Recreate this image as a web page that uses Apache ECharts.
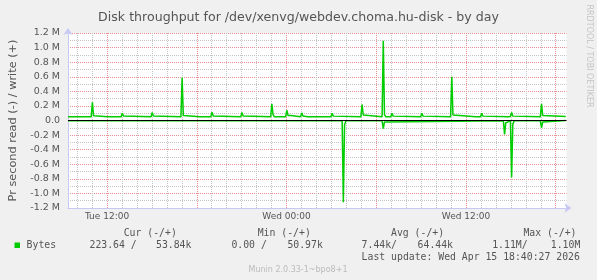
<!DOCTYPE html>
<html>
<head>
<meta charset="utf-8">
<script src="https://cdn.jsdelivr.net/npm/echarts@6/dist/echarts.min.js"></script>
<style>
html,body{margin:0;padding:0;background:#F0F0F0;}
#chart{width:597px;height:280px;}
</style>
</head>
<body>
<div id="chart"></div>
<script>
// ---- data (x = hours since Tue 00:00, y = bytes per second) ----
const xMinHour = 9.39;
const xMaxHour = 42.72;
const minorHours = [10,11,13,14,15,16,17,19,20,21,22,23,25,26,27,28,29,31,32,33,34,35,37,38,39,40,41];
const majorHours = [12,18,24,30,36,42];
const xTickHours = [12,24,36];
const xTickLabels = ['Tue 12:00','Wed 00:00','Wed 12:00'];

// write (+)
const writeSeries = [
  [9.39,50e3],
  [10.21,50e3],[10.29,70e3],[10.37,50e3],
  [10.94,50e3],[11.02,250e3],[11.10,65e3],[11.19,50e3],
  [12.08,50e3],[12.16,70e3],[12.24,50e3],
  [12.94,50e3],[13.02,100e3],[13.10,62e3],[13.19,50e3],
  [14.94,50e3],[15.02,110e3],[15.10,62e3],[15.19,50e3],
  [16.94,50e3],[17.02,590e3],[17.10,70e3],[17.19,50e3],
  [18.21,50e3],[18.29,70e3],[18.37,50e3],
  [18.94,50e3],[19.02,115e3],[19.10,62e3],[19.19,50e3],
  [20.94,50e3],[21.02,110e3],[21.10,62e3],[21.19,50e3],
  [22.94,50e3],[23.02,230e3],[23.10,80e3],[23.19,50e3],
  [23.48,50e3],[23.56,68e3],[23.64,50e3],
  [23.94,50e3],[24.02,140e3],[24.10,70e3],[24.19,58e3],[24.29,70e3],[24.37,50e3],
  [24.94,50e3],[25.02,105e3],[25.10,62e3],[25.19,50e3],
  [25.41,50e3],[25.49,65e3],[25.57,50e3],
  [25.88,50e3],[25.96,65e3],[26.04,50e3],
  [26.61,50e3],[26.69,65e3],[26.77,50e3],
  [26.97,50e3],[27.05,100e3],[27.13,60e3],[27.22,50e3],
  [28.97,50e3],[29.05,220e3],[29.13,75e3],[29.22,50e3],
  [30.39,50e3],[30.47,1095e3],[30.55,80e3],[30.64,50e3],
  [30.97,50e3],[31.05,100e3],[31.13,60e3],[31.22,50e3],
  [32.97,50e3],[33.05,100e3],[33.13,60e3],[33.22,50e3],
  [34.97,50e3],[35.05,600e3],[35.13,75e3],[35.22,50e3],
  [36.66,50e3],[36.74,65e3],[36.82,50e3],
  [36.97,50e3],[37.05,100e3],[37.13,60e3],[37.22,50e3],
  [38.81,50e3],[38.89,65e3],[38.97,55e3],[39.05,110e3],[39.13,60e3],[39.22,50e3],
  [40.97,50e3],[41.05,230e3],[41.13,70e3],[41.22,50e3],
  [42.67,53.84e3]
];

// read (-), drawn negative
const readSeries = [
  [9.39,-5e3],
  [27.72,-5e3],[27.80,-1120e3],[27.88,-60e3],[27.97,-5e3],
  [30.39,-5e3],[30.47,-110e3],[30.55,-20e3],[30.64,-5e3],
  [38.50,-5e3],[38.58,-190e3],[38.66,-30e3],[38.74,-5e3],
  [38.97,-5e3],[39.05,-780e3],[39.13,-50e3],[39.22,-5e3],
  [40.97,-5e3],[41.05,-100e3],[41.13,-20e3],[41.22,-5e3],
  [42.67,-223.64]
];

const legendHeaders = ['Cur (-/+)','Min (-/+)','Avg (-/+)','Max (-/+)'];
const legendValues = ['223.64 /','53.84k','0.00 /','50.97k','7.44k/','64.44k','1.11M/','1.10M'];
const seriesName = 'Bytes';
const lastUpdate = 'Last update: Wed Apr 15 18:40:27 2026';
const footer = 'Munin 2.0.33-1~bpo8+1';

// ---- chart ----
const GREEN = '#00CC00';
const TXT = '#555555';
const AXIS = '#C8C8F5';
const MINOR = '#C4C4C4';
const MAJOR = '#E49090';
const MONO = '"DejaVu Sans Mono", monospace';
const SANS = '"DejaVu Sans", sans-serif';

const chart = echarts.init(document.getElementById('chart'), null, {renderer:'canvas'});

const headerX = [123.7, 257.7, 391, 523.4];
const valueX = [89.5, 156, 231.4, 287.4, 361.6, 417.6, 492.2, 550.8];
const graphics = [];
legendHeaders.forEach((t,i)=>graphics.push({type:'text', x:headerX[i], y:233, style:{text:t, font:'9.8px '+MONO, fill:TXT, textVerticalAlign:'middle'}}));
graphics.push({type:'rect', shape:{x:14.5,y:242.5,width:5.5,height:5.5}, style:{fill:GREEN}});
graphics.push({type:'text', x:26.6, y:245.5, style:{text:seriesName, font:'9.8px '+MONO, fill:TXT, textVerticalAlign:'middle'}});
legendValues.forEach((t,i)=>graphics.push({type:'text', x:valueX[i], y:245.5, style:{text:t, font:'9.8px '+MONO, fill:TXT, textVerticalAlign:'middle'}}));
graphics.push({type:'text', x:361.6, y:257.5, style:{text:lastUpdate, font:'9.8px '+MONO, fill:TXT, textVerticalAlign:'middle'}});
graphics.push({type:'text', x:298, y:269.5, style:{text:footer, font:'8px '+SANS, fill:'#BBBBBB', textAlign:'center', textVerticalAlign:'middle'}});
graphics.push({type:'text', x:589, y:56, rotation:-Math.PI/2, style:{text:'RRDTOOL / TOBI OETIKER', font:'8px '+SANS, fill:'#C4C4C4', textAlign:'center', textVerticalAlign:'middle'}});

const option = {
  animation:false,
  backgroundColor:'#F0F0F0',
  title:{
    text:'Disk throughput for /dev/xenvg/webdev.choma.hu-disk - by day',
    left:'center', top:6,
    textStyle:{fontFamily:SANS, fontSize:12.6, fontWeight:'normal', color:TXT}
  },
  grid:{left:66.5, right:30.5, top:33, height:175, show:true, backgroundColor:'#FFFFFF', borderWidth:0, containLabel:false},
  xAxis:[
    {
      type:'value', min:xMinHour, max:xMaxHour,
      axisLine:{show:true, onZero:false, lineStyle:{color:AXIS, width:1}, symbol:['none','arrow'], symbolSize:[7,7], symbolOffset:[0,5]},
      axisTick:{show:false, customValues:minorHours},
      axisLabel:{show:true, customValues:xTickHours, margin:4, fontFamily:SANS, fontSize:9, color:TXT,
        formatter:(v)=>{const i=xTickHours.indexOf(Math.round(v)); return i>=0?xTickLabels[i]:'';}},
      splitLine:{show:true, lineStyle:{color:MINOR, width:1, type:[1,1]}}
    },
    {
      type:'value', min:xMinHour, max:xMaxHour, position:'bottom',
      axisLine:{show:false}, axisLabel:{show:false},
      axisTick:{show:false, customValues:majorHours},
      splitLine:{show:true, lineStyle:{color:MAJOR, width:1, type:[1,1]}}
    }
  ],
  yAxis:[
    {
      type:'value', min:-1.2e6, max:1.2e6, interval:0.2e6,
      name:'Pr second read (-) / write (+)', nameLocation:'middle', nameRotate:90, nameGap:49,
      nameTextStyle:{fontFamily:SANS, fontSize:11.3, color:TXT},
      axisLine:{show:true, lineStyle:{color:AXIS, width:1}, symbol:['none','arrow'], symbolSize:[7,7], symbolOffset:[0,5]},
      axisTick:{show:false},
      axisLabel:{margin:8, fontFamily:SANS, fontSize:9.5, color:TXT,
        formatter:(v)=>{ if (Math.abs(v)<1) return '0.0'; return (v/1e6).toFixed(1)+' M'; }},
      splitLine:{show:true, lineStyle:{color:MAJOR, width:1, type:[1,1]}},
      minorTick:{show:false, splitNumber:2},
      minorSplitLine:{show:true, lineStyle:{color:MINOR, width:1, type:[1,1]}}
    }
  ],
  graphic:graphics,
  series:[
    {type:'line', name:'Bytes read', data:readSeries, showSymbol:false, symbol:'none', lineStyle:{color:GREEN, width:1.5}, z:3},
    {type:'line', name:'Bytes write', data:writeSeries, showSymbol:false, symbol:'none', lineStyle:{color:GREEN, width:1.5}, z:3,
      markLine:{silent:true, symbol:['none','none'], label:{show:false}, lineStyle:{color:'#000000', width:1, type:'solid'}, data:[{yAxis:0}], z:5}}
  ]
};
chart.setOption(option);
</script>
</body>
</html>
